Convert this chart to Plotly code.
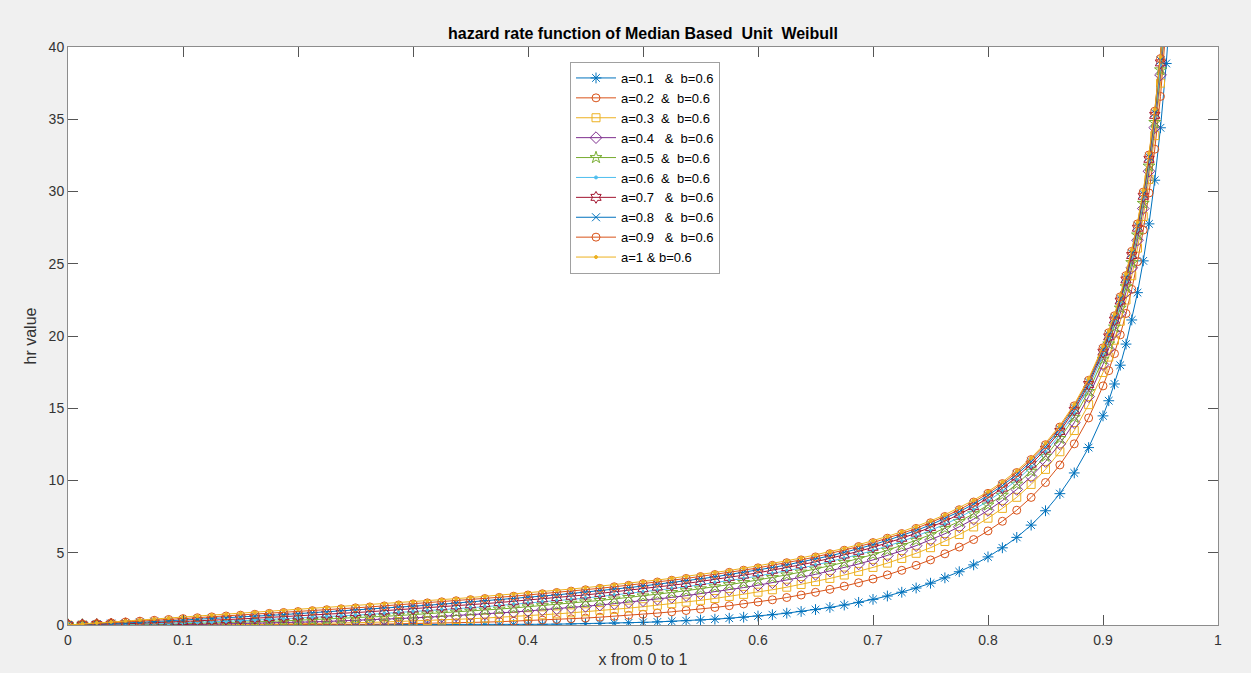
import plotly.graph_objects as go

# x positions
x_vals = [0, 0.0125, 0.025, 0.0375, 0.05, 0.0625, 0.075, 0.0875,
          0.1, 0.1125, 0.125, 0.1375, 0.15, 0.1625, 0.175, 0.1875,
          0.2, 0.2125, 0.225, 0.2375, 0.25, 0.2625, 0.275, 0.2875,
          0.3, 0.3125, 0.325, 0.3375, 0.35, 0.3625, 0.375, 0.3875,
          0.4, 0.4125, 0.425, 0.4375, 0.45, 0.4625, 0.475, 0.4875,
          0.5, 0.5125, 0.525, 0.5375, 0.55, 0.5625, 0.575, 0.5875,
          0.6, 0.6125, 0.625, 0.6375, 0.65, 0.6625, 0.675, 0.6875,
          0.7, 0.7125, 0.725, 0.7375, 0.75, 0.7625, 0.775, 0.7875,
          0.8, 0.8125, 0.825, 0.8375, 0.85, 0.8625, 0.875, 0.8875,
          0.9, 0.905, 0.91, 0.915, 0.92, 0.925, 0.93, 0.935, 0.94, 0.945, 0.95, 0.955, 0.96]

hr_a01 = [0, 0, 0, 0, 0, 0, 0, 0,
          0, 0, 0, 0, 0, 0, 0.0001, 0.0002,
          0.0003, 0.0005, 0.0007, 0.0011, 0.0015, 0.0021, 0.003, 0.004,
          0.005, 0.0072, 0.0095, 0.0123, 0.0157, 0.0201, 0.0254, 0.0318,
          0.0397, 0.0488, 0.0599, 0.0731, 0.0885, 0.1069, 0.129, 0.1529,
          0.182, 0.2146, 0.254, 0.2964, 0.346, 0.4032, 0.469, 0.5402,
          0.621, 0.7149, 0.819, 0.9373, 1.067, 1.2168, 1.382, 1.5668,
          1.773, 2.0059, 2.267, 2.5605, 2.892, 3.2634, 3.686, 4.1605,
          4.713, 5.3423, 6.063, 6.9122, 7.906, 9.0899, 10.524, 12.278,
          14.473, 15.52, 16.68, 17.98, 19.44, 21.11, 23.00, 25.20, 27.76, 30.78, 34.41, 38.86, 44.41]
hr_a02 = [0, 0, 0, 0, 0, 0.0001, 0.0003, 0.0005,
          0.0009, 0.0014, 0.0023, 0.0034, 0.0049, 0.0069, 0.0094, 0.0126,
          0.0166, 0.0213, 0.027, 0.034, 0.0423, 0.0517, 0.063, 0.0758,
          0.0905, 0.1072, 0.126, 0.1476, 0.1715, 0.1985, 0.228, 0.2614,
          0.2985, 0.338, 0.381, 0.4305, 0.482, 0.5404, 0.604, 0.6711,
          0.7455, 0.8241, 0.912, 1.0044, 1.103, 1.2138, 1.3335, 1.4584,
          1.593, 1.7431, 1.902, 2.0747, 2.260, 2.4665, 2.687, 2.9262,
          3.186, 3.4697, 3.784, 4.1288, 4.505, 4.9271, 5.393, 5.9123,
          6.511, 7.1777, 7.944, 8.83, 9.860, 11.077, 12.538, 14.329,
          16.545, 17.60, 18.78, 20.08, 21.56, 23.23, 25.14, 27.33, 29.90, 32.93, 36.58, 41.02, 46.6]
hr_a03 = [0, 0, 0, 0.0004, 0.0011, 0.0022, 0.0038, 0.0062,
          0.0093, 0.0134, 0.0187, 0.025, 0.0326, 0.0419, 0.0525, 0.0649,
          0.0792, 0.095, 0.113, 0.1334, 0.156, 0.1805, 0.208, 0.238,
          0.270, 0.3058, 0.344, 0.3852, 0.430, 0.478, 0.529, 0.5835,
          0.643, 0.7041, 0.769, 0.8409, 0.914, 0.9956, 1.082, 1.1691,
          1.265, 1.3662, 1.475, 1.5869, 1.707, 1.8357, 1.977, 2.1185,
          2.271, 2.4395, 2.616, 2.8053, 3.003, 3.2241, 3.459, 3.7106,
          3.985, 4.2828, 4.605, 4.9621, 5.351, 5.7797, 6.260, 6.7858,
          7.391, 8.0703, 8.837, 9.7285, 10.769, 11.991, 13.458, 15.248,
          17.477, 18.54, 19.71, 21.02, 22.49, 24.17, 26.08, 28.27, 30.84, 33.87, 37.5, 41.96, 47.5]
hr_a04 = [0, 0.0002, 0.0012, 0.0032, 0.0064, 0.011, 0.0173, 0.0252,
          0.0349, 0.0465, 0.0602, 0.0758, 0.0934, 0.1133, 0.1355, 0.1599,
          0.1866, 0.2154, 0.2463, 0.2804, 0.3173, 0.3555, 0.398, 0.4415,
          0.488, 0.5378, 0.5905, 0.6454, 0.704, 0.7654, 0.830, 0.8974,
          0.970, 1.043, 1.121, 1.2032, 1.288, 1.3807, 1.479, 1.576,
          1.682, 1.7915, 1.910, 2.0301, 2.158, 2.2943, 2.442, 2.59,
          2.752, 2.9229, 3.108, 3.2998, 3.507, 3.7307, 3.970, 4.2252,
          4.503, 4.8048, 5.135, 5.4898, 5.883, 6.314, 6.795, 7.3267,
          7.930, 8.6088, 9.383, 10.272, 11.314, 12.536, 14.000, 15.807,
          18.024, 19.09, 20.26, 21.57, 23.04, 24.72, 26.63, 28.82, 31.40, 34.42, 38.07, 42.51, 48.07]
hr_a05 = [0, 0.0012, 0.005, 0.0114, 0.0204, 0.032, 0.0463, 0.063,
          0.0823, 0.1039, 0.1283, 0.1545, 0.1837, 0.2148, 0.2484, 0.2839,
          0.3233, 0.3627, 0.405, 0.4503, 0.4983, 0.5471, 0.600, 0.6535,
          0.710, 0.7685, 0.831, 0.8947, 0.961, 1.0305, 1.102, 1.1782,
          1.257, 1.3376, 1.421, 1.5109, 1.600, 1.6986, 1.801, 1.9028,
          2.013, 2.1277, 2.250, 2.3738, 2.504, 2.6438, 2.795, 2.9464,
          3.108, 3.283, 3.468, 3.6643, 3.870, 4.0992, 4.337, 4.5971,
          4.873, 5.176, 5.505, 5.8631, 6.254, 6.6856, 7.167, 7.6993,
          8.302, 8.9821, 9.750, 10.646, 11.678, 12.910, 14.376, 16.158,
          18.394, 19.45, 20.62, 21.93, 23.41, 25.08, 26.99, 29.18, 31.76, 34.78, 38.42, 42.87, 48.42]
hr_a06 = [0, 0.0044, 0.014, 0.0286, 0.0467, 0.068, 0.0927, 0.12,
          0.1497, 0.1827, 0.218, 0.2551, 0.294, 0.3357, 0.379, 0.4249,
          0.473, 0.5214, 0.572, 0.6258, 0.6815, 0.7374, 0.797, 0.8582,
          0.921, 0.9856, 1.053, 1.1221, 1.193, 1.2677, 1.3435, 1.4234,
          1.507, 1.5906, 1.676, 1.7706, 1.861, 1.9629, 2.067, 2.1718,
          2.283, 2.398, 2.523, 2.6474, 2.780, 2.9204, 3.073, 3.2243,
          3.387, 3.5633, 3.748, 3.9444, 4.149, 4.3775, 4.617, 4.8759,
          5.152, 5.4536, 5.782, 6.1406, 6.533, 6.9623, 7.443, 7.9753,
          8.582, 9.2582, 10.024, 10.921, 11.959, 13.177, 14.646, 16.445,
          18.661, 19.72, 20.89, 22.20, 23.68, 25.35, 27.26, 29.45, 32.02, 35.05, 38.69, 43.14, 48.69]
hr_a07 = [0, 0.0114, 0.032, 0.0572, 0.0867, 0.1196, 0.156, 0.1946,
          0.2356, 0.278, 0.3235, 0.37, 0.4187, 0.4684, 0.5186, 0.5726,
          0.6264, 0.6822, 0.739, 0.7973, 0.860, 0.9204, 0.984, 1.0491,
          1.1165, 1.1842, 1.2545, 1.3269, 1.401, 1.4786, 1.556, 1.6374,
          1.722, 1.8072, 1.896, 1.9888, 2.083, 2.185, 2.290, 2.3952,
          2.508, 2.6228, 2.748, 2.872, 3.004, 3.1456, 3.297, 3.4494,
          3.612, 3.7872, 3.971, 4.1686, 4.372, 4.5997, 4.840, 5.0962,
          5.375, 5.6737, 6.000, 6.3591, 6.749, 7.1818, 7.661, 8.19,
          8.795, 9.4709, 10.239, 11.134, 12.164, 13.392, 14.860, 16.645,
          18.883, 19.94, 21.10, 22.42, 23.88, 25.57, 27.46, 29.67, 32.23, 35.27, 38.9, 43.36, 48.9]
hr_a08 = [0, 0.0243, 0.059, 0.0985, 0.1415, 0.1866, 0.2345, 0.2839,
          0.334, 0.3863, 0.440, 0.4939, 0.550, 0.6058, 0.663, 0.7218,
          0.782, 0.8415, 0.903, 0.9648, 1.0295, 1.0926, 1.160, 1.2276,
          1.296, 1.3661, 1.438, 1.5127, 1.586, 1.6657, 1.744, 1.8268,
          1.912, 1.9978, 2.085, 2.1798, 2.273, 2.3756, 2.481, 2.5854,
          2.698, 2.8126, 2.938, 3.0618, 3.193, 3.3349, 3.486, 3.6357,
          3.798, 3.9751, 4.157, 4.3508, 4.557, 4.7827, 5.022, 5.2784,
          5.557, 5.8571, 6.182, 6.54, 6.927, 7.3563, 7.840, 8.3626,
          8.969, 9.6471, 10.413, 11.299, 12.337, 13.551, 15.025, 16.808,
          19.047, 20.10, 21.26, 22.58, 24.05, 25.73, 27.63, 29.83, 32.40, 35.43, 39.07, 43.52, 49.07]
hr_a09 = [0, 0.0448, 0.097, 0.1523, 0.208, 0.2662, 0.325, 0.3833,
          0.442, 0.5014, 0.563, 0.6223, 0.682, 0.7435, 0.8055, 0.8665,
          0.930, 0.9923, 1.057, 1.1202, 1.187, 1.2518, 1.321, 1.389,
          1.459, 1.5298, 1.603, 1.677, 1.752, 1.831, 1.910, 1.993,
          2.078, 2.1622, 2.251, 2.3446, 2.437, 2.5392, 2.645, 2.7475,
          2.862, 2.9752, 3.098, 3.2221, 3.352, 3.4924, 3.646, 3.794,
          3.955, 4.1295, 4.312, 4.5066, 4.711, 4.9356, 5.175, 5.4307,
          5.704, 6.0063, 6.331, 6.6843, 7.076, 7.5069, 7.980, 8.5104,
          9.111, 9.7853, 10.551, 11.45, 12.478, 13.701, 15.167, 16.936,
          19.181, 20.23, 21.40, 22.71, 24.18, 25.86, 27.76, 29.96, 32.53, 35.56, 39.2, 43.65, 49.2]
hr_a10 = [0, 0.0741, 0.1465, 0.2175, 0.287, 0.3556, 0.423, 0.4897,
          0.556, 0.6209, 0.686, 0.7502, 0.8145, 0.8786, 0.943, 1.007,
          1.071, 1.1362, 1.201, 1.267, 1.333, 1.4004, 1.468, 1.5372,
          1.607, 1.6783, 1.751, 1.8248, 1.900, 1.9778, 2.057, 2.1385,
          2.222, 2.3084, 2.397, 2.4889, 2.584, 2.682, 2.784, 2.8898,
          3.0, 3.1149, 3.235, 3.3605, 3.492, 3.6302, 3.776, 3.9289,
          4.091, 4.2624, 4.444, 4.6381, 4.845, 5.0657, 5.303, 5.5579,
          5.833, 6.1318, 6.456, 6.8109, 7.2, 7.6289, 8.105, 8.635,
          9.231, 9.9047, 10.674, 11.56, 12.593, 13.812, 15.273, 17.057,
          19.286, 20.341, 21.513, 22.823, 24.296, 25.965, 27.872, 30.073, 32.639, 35.671, 39.31, 43.757, 49.31]

series_labels = [
    "a=0.1\u00a0\u00a0\u00a0&\u00a0\u00a0b=0.6",
    "a=0.2\u00a0\u00a0&\u00a0\u00a0b=0.6",
    "a=0.3\u00a0\u00a0&\u00a0\u00a0b=0.6",
    "a=0.4\u00a0\u00a0\u00a0&\u00a0\u00a0b=0.6",
    "a=0.5\u00a0\u00a0&\u00a0\u00a0b=0.6",
    "a=0.6\u00a0\u00a0&\u00a0\u00a0b=0.6",
    "a=0.7\u00a0\u00a0\u00a0&\u00a0\u00a0b=0.6",
    "a=0.8\u00a0\u00a0\u00a0&\u00a0\u00a0b=0.6",
    "a=0.9\u00a0\u00a0\u00a0&\u00a0\u00a0b=0.6",
    "a=1 & b=0.6",
]
series_values = [hr_a01, hr_a02, hr_a03, hr_a04, hr_a05, hr_a06, hr_a07, hr_a08, hr_a09, hr_a10]

x_tickvals = [0, 0.1, 0.2, 0.3, 0.4, 0.5, 0.6, 0.7, 0.8, 0.9, 1]
x_ticktext = ["0", "0.1", "0.2", "0.3", "0.4", "0.5", "0.6", "0.7", "0.8", "0.9", "1"]
y_tickvals = [0, 5, 10, 15, 20, 25, 30, 35, 40]

colors = ["#0072BD", "#D95319", "#EDB120", "#7E2F8E", "#77AC30",
          "#4DBEEE", "#A2142F", "#0072BD", "#D95319", "#EDB120"]
symbols = ["asterisk-open", "circle-open", "square-open", "diamond-open", "star-open",
           "circle", "hexagram-open", "x-thin-open", "circle-open", "circle"]
sizes = [9, 8, 8, 9, 9, 3, 9, 8, 8, 3]

fig = go.Figure()
for name, ys, col, sym, sz in zip(series_labels, series_values, colors, symbols, sizes):
    fig.add_trace(go.Scatter(
        x=x_vals, y=ys, mode="lines+markers", name=name,
        line=dict(color=col, width=1),
        marker=dict(symbol=sym, size=sz, color=col, line=dict(color=col, width=1)),
    ))

axis_common = dict(
    showline=True, linecolor="#8c8c8c", linewidth=1, mirror="ticks",
    ticks="inside", ticklen=10, tickcolor="#555555", tickwidth=1,
    showgrid=False, zeroline=False, automargin=False,
    tickfont=dict(size=14, color="#333333"),
)

fig.update_layout(
    width=1251, height=673,
    paper_bgcolor="#f0f0f0", plot_bgcolor="white",
    margin=dict(l=68, r=33, t=47, b=48),
    font=dict(family="Liberation Sans, Arial, sans-serif", color="#262626"),
    title=dict(text="<b>hazard rate function of Median Based\u00a0 Unit\u00a0 Weibull</b>",
               x=643 / 1251, xanchor="center", y=1 - 33 / 673, yanchor="middle",
               font=dict(size=16, color="#000000")),
    xaxis=dict(range=[0, 1], tickvals=x_tickvals, ticktext=x_ticktext, ticklabelstandoff=2,
               title=dict(text="x from 0 to 1", font=dict(size=16, color="#333333"), standoff=7),
               **axis_common),
    yaxis=dict(range=[0, 40], tickvals=y_tickvals,
               title=dict(text="hr value", font=dict(size=16, color="#333333"), standoff=8),
               **axis_common),
    legend=dict(x=(570 - 68) / 1150, y=(625 - 62) / 578, xanchor="left", yanchor="top",
                bgcolor="white", bordercolor="#a0a0a0", borderwidth=1,
                font=dict(size=13, color="#000000"), itemwidth=40, tracegroupgap=0),
    showlegend=True,
)

fig.write_html("out.html", config={"displayModeBar": False},
               post_script="document.body.style.margin='0';document.body.style.overflow='hidden';")
